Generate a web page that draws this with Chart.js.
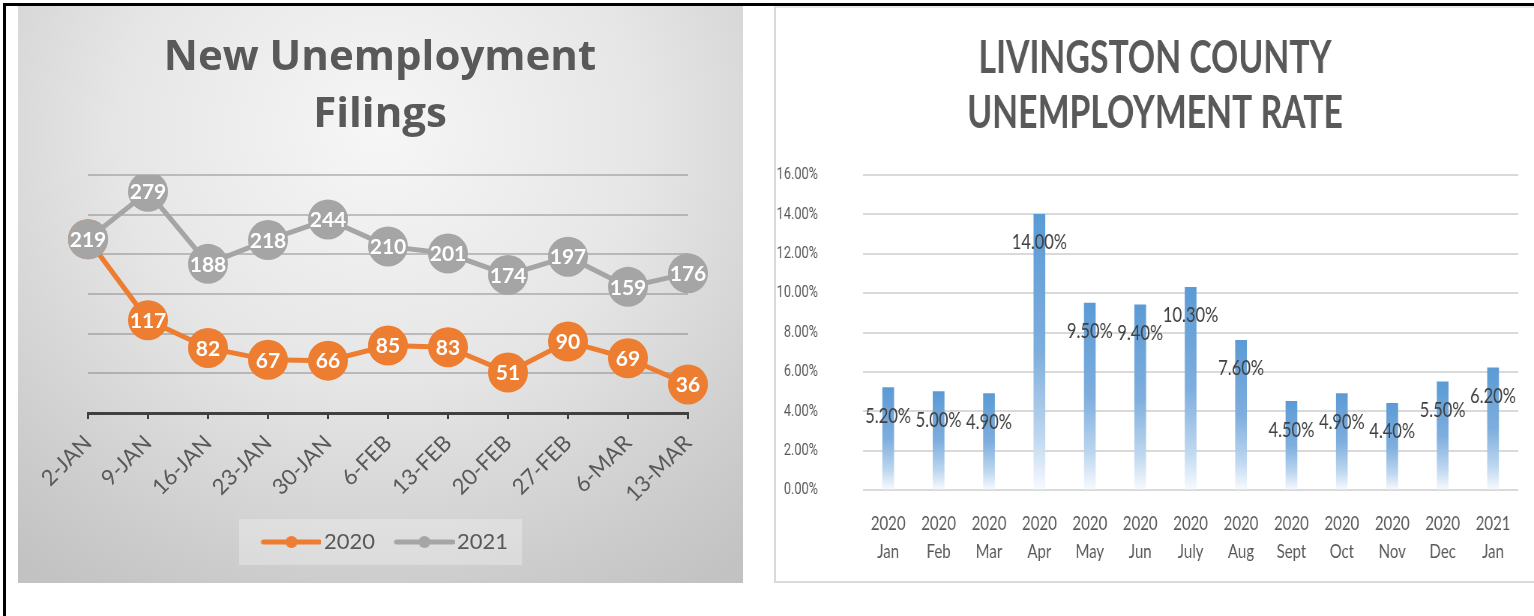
<!DOCTYPE html>
<html>
<head>
<meta charset="utf-8">
<title>Unemployment</title>
<script src="https://cdn.jsdelivr.net/npm/chart.js@4.4.1/dist/chart.umd.min.js"></script>
<style>
    html, body { margin: 0; padding: 0; background: #fff; }
    body { width: 1534px; height: 616px; position: relative; overflow: hidden; }
    #frame {
        position: absolute; left: 3px; top: 3px; right: 0; bottom: 0;
        border-top: 3px solid #000; border-left: 3px solid #000;
    }
    #filingsPanel {
        position: absolute; left: 18px; top: 6px; width: 725px; height: 577px;
        background: radial-gradient(ellipse 80% 95% at 50% 22%, #f6f6f6 0%, #e6e6e6 45%, #cbcbcb 85%, #c2c2c2 100%);
    }
    #filingsPanel canvas { position: absolute; left: 0; top: 0; }
    #ratePanel {
        position: absolute; left: 774px; top: 6px; width: 760px; height: 577px;
        box-sizing: border-box; background: #fff;
        border-left: 2px solid #d9d9d9; border-top: 2px solid #e8e8e8; border-bottom: 2px solid #d9d9d9;
    }
    #rateChart { position: absolute; left: 776px; top: 7px; width: 758px; height: 574px; }
</style>
</head>
<body>
<div id="frame"></div>
<div id="filingsPanel">
    <canvas id="filingsChart" width="725" height="577" style="width:725px;height:577px"></canvas>
</div>
<div id="ratePanel"></div>
<canvas id="rateChart" width="1011" height="574" style="width:758px;height:574px"></canvas>

<script>
    // ---- data ----
    const filingWeeks = ['2-JAN', '9-JAN', '16-JAN', '23-JAN', '30-JAN', '6-FEB', '13-FEB', '20-FEB', '27-FEB', '6-MAR', '13-MAR'];
    const filings2020 = [219, 117, 82, 67, 66, 85, 83, 51, 90, 69, 36];
    const filings2021 = [219, 279, 188, 218, 244, 210, 201, 174, 197, 159, 176];
    const filingGridValues = [0, 50, 100, 150, 200, 250, 300];

    const rateMonths = [
        ['2020', 'Jan'], ['2020', 'Feb'], ['2020', 'Mar'], ['2020', 'Apr'], ['2020', 'May'],
        ['2020', 'Jun'], ['2020', 'July'], ['2020', 'Aug'], ['2020', 'Sept'], ['2020', 'Oct'],
        ['2020', 'Nov'], ['2020', 'Dec'], ['2021', 'Jan'],
    ];
    const rateValues = [5.2, 5.0, 4.9, 14.0, 9.5, 9.4, 10.3, 7.6, 4.5, 4.9, 4.4, 5.5, 6.2];
    const rateTickValues = [0, 2, 4, 6, 8, 10, 12, 14, 16];

    const ORANGE = '#ED7D31';
    const GREY = '#A5A5A5';
    const BLUE = '#5B9BD5';
    const TEXT = '#595959';

    Chart.defaults.animation = false;
    Chart.defaults.font.family = 'Lato, "Open Sans", sans-serif';

    // legend swatch: line with a small dot, like the spreadsheet legend
    function makeSwatch(color) {
        const c = document.createElement('canvas');
        c.width = 78;
        c.height = 14;
        const g = c.getContext('2d');
        g.strokeStyle = color;
        g.lineWidth = 5;
        g.lineCap = 'round';
        g.beginPath();
        g.moveTo(20, 7);
        g.lineTo(76, 7);
        g.stroke();
        g.fillStyle = color;
        g.beginPath();
        g.arc(48, 7, 6, 0, Math.PI * 2);
        g.fill();
        return c;
    }

    const swatches = [makeSwatch(ORANGE), makeSwatch(GREY)];

    // labels drawn right after each line dataset so later series cover them
    const pointLabels = {
        id: 'pointLabels',
        afterDatasetDraw(chart, args) {
            const ctx = chart.ctx;
            const ds = chart.data.datasets[args.index];
            ctx.save();
            ctx.font = 'bold 21px Lato, "Open Sans", sans-serif';
            ctx.fillStyle = '#ffffff';
            ctx.textAlign = 'center';
            ctx.textBaseline = 'middle';
            args.meta.data.forEach((pt, i) => {
                ctx.fillText(String(ds.data[i]), pt.x, pt.y + 1);
            });
            ctx.restore();
        },
    };

    const legendBackdrop = {
        id: 'legendBackdrop',
        beforeDraw(chart) {
            const boxes = chart.legend && chart.legend.legendHitBoxes;
            if (!boxes || !boxes.length) return;
            const left = Math.min(...boxes.map((b) => b.left));
            const right = Math.max(...boxes.map((b) => b.left + b.width));
            const top = Math.min(...boxes.map((b) => b.top));
            const bottom = Math.max(...boxes.map((b) => b.top + b.height));
            const ctx = chart.ctx;
            ctx.save();
            ctx.fillStyle = 'rgba(255, 255, 255, 0.28)';
            ctx.fillRect(left - 13, top - 12, right - left + 27, bottom - top + 24);
            ctx.restore();
        },
    };

    new Chart(document.getElementById('filingsChart'), {
        type: 'line',
        data: {
            labels: filingWeeks,
            datasets: [
                {
                    label: '2020',
                    data: filings2020,
                    order: 2,
                    borderColor: ORANGE,
                    backgroundColor: ORANGE,
                    borderWidth: 5,
                    pointStyle: 'circle',
                    pointRadius: 20,
                    pointBorderWidth: 0,
                    pointBackgroundColor: ORANGE,
                    tension: 0,
                },
                {
                    label: '2021',
                    data: filings2021,
                    order: 1,
                    borderColor: GREY,
                    backgroundColor: GREY,
                    borderWidth: 5,
                    pointStyle: 'circle',
                    pointRadius: 20,
                    pointBorderWidth: 0,
                    pointBackgroundColor: GREY,
                    tension: 0,
                },
            ],
        },
        options: {
            responsive: false,
            layout: { padding: { left: 0, right: 1, top: 0, bottom: 20 } },
            plugins: {
                title: {
                    display: true,
                    text: ['New Unemployment', 'Filings'],
                    color: TEXT,
                    font: { family: '"Open Sans", Lato, sans-serif', size: 42, weight: 'bold', lineHeight: 57 / 42 },
                    padding: { top: 23.5, bottom: 31.5 },
                },
                legend: {
                    position: 'bottom',
                    labels: {
                        color: TEXT,
                        font: { size: 22 },
                        usePointStyle: true,
                        pointStyleWidth: 61,
                        padding: 10,
                        generateLabels(chart) {
                            return chart.data.datasets.map((ds, i) => ({
                                text: ds.label,
                                fontColor: TEXT,
                                pointStyle: swatches[i],
                                fillStyle: ds.borderColor,
                                strokeStyle: ds.borderColor,
                                lineWidth: 0,
                                datasetIndex: i,
                                hidden: false,
                            }));
                        },
                    },
                },
                tooltip: { enabled: false },
            },
            scales: {
                x: {
                    offset: false,
                    afterFit(scale) { scale.height = 108; },
                    grid: {
                        drawOnChartArea: false,
                        drawTicks: true,
                        tickLength: 6,
                        color: '#404040',
                        lineWidth: 2,
                    },
                    border: { display: true, color: '#404040', width: 3 },
                    ticks: {
                        autoSkip: false,
                        minRotation: 45,
                        maxRotation: 45,
                        padding: 11,
                        color: TEXT,
                        font: { size: 22 },
                    },
                },
                y: {
                    min: 0,
                    max: 300,
                    afterFit(scale) { scale.width = 70; },
                    afterBuildTicks(scale) {
                        scale.ticks = filingGridValues.map((v) => ({ value: v }));
                    },
                    grid: { color: 'rgba(110, 110, 110, 0.38)', lineWidth: 2, drawTicks: false },
                    border: { display: false },
                    ticks: { display: false },
                },
                y2: {
                    position: 'right',
                    afterFit(scale) { scale.width = 54; },
                    grid: { display: false },
                    border: { display: false },
                    ticks: { display: false },
                },
            },
        },
        plugins: [legendBackdrop, pointLabels],
    });

    // per-bar fade: solid at the top, almost white at the base
    function barGradient(context) {
        const chart = context.chart;
        const area = chart.chartArea;
        if (!area || context.type !== 'data') return BLUE;
        const top = chart.scales.y.getPixelForValue(context.raw);
        const bottom = area.bottom;
        if (!(bottom > top)) return BLUE;
        const grad = chart.ctx.createLinearGradient(0, top, 0, bottom);
        grad.addColorStop(0, '#5B9BD5');
        grad.addColorStop(0.5, '#7eaede');
        grad.addColorStop(0.8, '#bcd6ef');
        grad.addColorStop(1, '#f8fbfe');
        return grad;
    }

    const barLabels = {
        id: 'barLabels',
        afterDatasetsDraw(chart) {
            const ctx = chart.ctx;
            const meta = chart.getDatasetMeta(0);
            ctx.save();
            ctx.font = '22px Lato, "Open Sans", sans-serif';
            ctx.fillStyle = '#404040';
            ctx.textAlign = 'center';
            ctx.textBaseline = 'middle';
            meta.data.forEach((bar, i) => {
                ctx.fillText(rateValues[i].toFixed(2) + '%', bar.x, bar.y + 28);
            });
            ctx.restore();
        },
    };

    new Chart(document.getElementById('rateChart'), {
        type: 'bar',
        data: {
            labels: rateMonths,
            datasets: [
                {
                    label: 'Rate',
                    data: rateValues,
                    backgroundColor: barGradient,
                    borderWidth: 0,
                    barThickness: 15,
                },
            ],
        },
        options: {
            responsive: false,
            layout: { padding: { left: 0, right: 0, top: 0, bottom: 0 } },
            plugins: {
                title: {
                    display: true,
                    text: ['LIVINGSTON COUNTY', 'UNEMPLOYMENT RATE'],
                    color: TEXT,
                    font: { size: 45, weight: 'bold', lineHeight: 55 / 45 },
                    padding: { top: 23.5, bottom: 34.5 },
                },
                legend: { display: false },
                tooltip: { enabled: false },
            },
            scales: {
                x: {
                    afterFit(scale) { scale.height = 91; },
                    grid: { display: false },
                    border: { display: false },
                    ticks: {
                        autoSkip: false,
                        maxRotation: 0,
                        padding: 12,
                        color: TEXT,
                        font: { size: 20, lineHeight: 28 / 20 },
                    },
                },
                y: {
                    min: 0,
                    max: 16,
                    afterFit(scale) { scale.width = 116; },
                    afterBuildTicks(scale) {
                        scale.ticks = rateTickValues.map((v) => ({ value: v }));
                    },
                    grid: { color: '#d9d9d9', lineWidth: 2, drawTicks: false },
                    border: { display: false },
                    ticks: {
                        padding: 60,
                        color: TEXT,
                        font: { family: 'Roboto, Lato, sans-serif', size: 17 },
                        callback: (v) => Number(v).toFixed(2) + '%',
                    },
                },
                y2: {
                    position: 'right',
                    afterFit(scale) { scale.width = 21; },
                    grid: { display: false },
                    border: { display: false },
                    ticks: { display: false },
                },
            },
        },
        plugins: [barLabels],
    });
</script>
</body>
</html>
